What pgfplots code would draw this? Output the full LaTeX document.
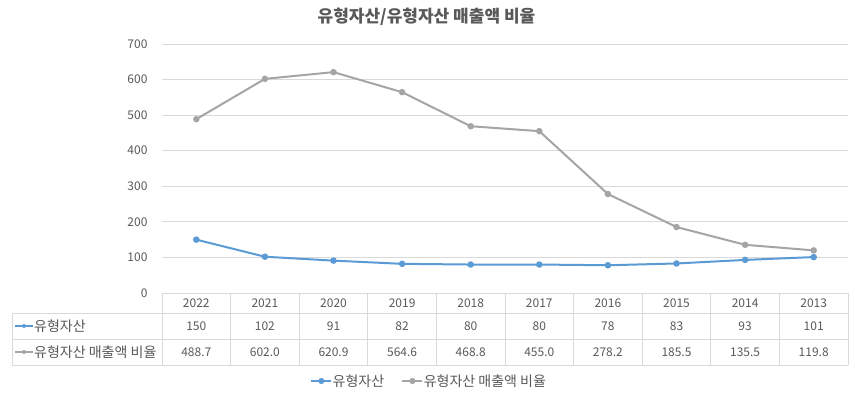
\documentclass[border=0pt]{standalone}
\usepackage{pgfplots}
\pgfplotsset{compat=1.18}
\usepackage{fontspec}
\setmainfont{Noto Sans CJK KR}
\definecolor{ser1}{HTML}{5B9BD5}
\definecolor{ser2}{HTML}{A5A5A5}
\definecolor{gridc}{HTML}{D9D9D9}
\definecolor{txt}{HTML}{595959}
\newcommand{\tf}{\fontsize{12}{14}\selectfont}
\newcommand{\kf}{\fontsize{14}{16}\selectfont}
\begin{document}
\begin{tikzpicture}
\path[use as bounding box] (0pt,0pt) rectangle (855pt,397pt);
\begin{axis}[at={(162pt,104pt)}, anchor=south west, scale only axis,
  width=686pt, height=249pt,
  xmin=-0.5, xmax=9.5, ymin=0, ymax=700,
  ytick={0,100,...,700}, xtick=\empty,
  axis line style={draw=none}, ymajorgrids,
  grid style={gridc, line width=0.75pt},
  major tick length=0pt,
  tick label style={font=\tf, text=txt},
  yticklabel style={xshift=-11pt},
  /pgf/number format/assume math mode=true,
  legend columns=2,
  legend style={draw=none, at={(0.3885,-0.3534)}, anchor=center, font=\kf, text=txt,
    nodes={inner xsep=0.5pt},
    /tikz/every odd column/.append style={column sep=0pt},
    /tikz/every even column/.append style={column sep=17pt}},
  legend image code/.code={\draw[#1, line width=1.6pt] (0pt,0pt) -- (20pt,0pt);
     \fill[#1] (10pt,0pt) circle (2pt);},
  clip=false]
\addplot[ser1, line width=2pt, mark=*, mark size=2.2pt, mark options={fill=ser1}]
  coordinates {(0,150)(1,102)(2,91)(3,82)(4,80)(5,80)(6,78)(7,83)(8,93)(9,101)};
\addlegendentry{유형자산}
\addplot[ser2, line width=2pt, mark=*, mark size=2.2pt, mark options={fill=ser2}]
  coordinates {(0,488.7)(1,602.0)(2,620.9)(3,564.6)(4,468.8)(5,455.0)(6,278.2)(7,185.5)(8,135.5)(9,119.8)};
\addlegendentry{유형자산 매출액 비율}
\end{axis}
% data table
\draw[gridc, line width=0.75pt] (12pt,84pt) -- (848pt,84pt);
\draw[gridc, line width=0.75pt] (12pt,58pt) -- (848pt,58pt);
\draw[gridc, line width=0.75pt] (12pt,32pt) -- (848pt,32pt);
\draw[gridc, line width=0.75pt] (12pt,84pt) -- (12pt,32pt);
\foreach \j in {0,...,10} {\draw[gridc, line width=0.75pt] ({162pt+68.6pt*\j},104pt) -- ({162pt+68.6pt*\j},32pt);}
\foreach \v [count=\i from 0] in {2022,2021,2020,2019,2018,2017,2016,2015,2014,2013}
  {\node[font=\tf, text=txt] at ({196.3pt+68.6pt*\i},94pt) {\v};}
\foreach \v [count=\i from 0] in {150,102,91,82,80,80,78,83,93,101}
  {\node[font=\tf, text=txt] at ({196.3pt+68.6pt*\i},71pt) {\v};}
\foreach \v [count=\i from 0] in {488.7,602.0,620.9,564.6,468.8,455.0,278.2,185.5,135.5,119.8}
  {\node[font=\tf, text=txt] at ({196.3pt+68.6pt*\i},45pt) {\v};}
\draw[ser1, line width=1.6pt] (15pt,71pt) -- (33pt,71pt);
\fill[ser1] (24pt,71pt) circle (2pt);
\draw[ser2, line width=1.6pt] (15pt,45pt) -- (33pt,45pt);
\fill[ser2] (24pt,45pt) circle (2pt);
\node[font=\kf, text=txt, anchor=west, inner sep=0pt] at (34pt,71pt) {유형자산};
\node[font=\kf, text=txt, anchor=west, inner sep=0pt] at (34pt,45pt) {유형자산 매출액 비율};
\node[font=\bfseries\fontsize{17}{19}\selectfont, text=txt] at (426.5pt,380pt) {유형자산/유형자산 매출액 비율};
\end{tikzpicture}
\end{document}
